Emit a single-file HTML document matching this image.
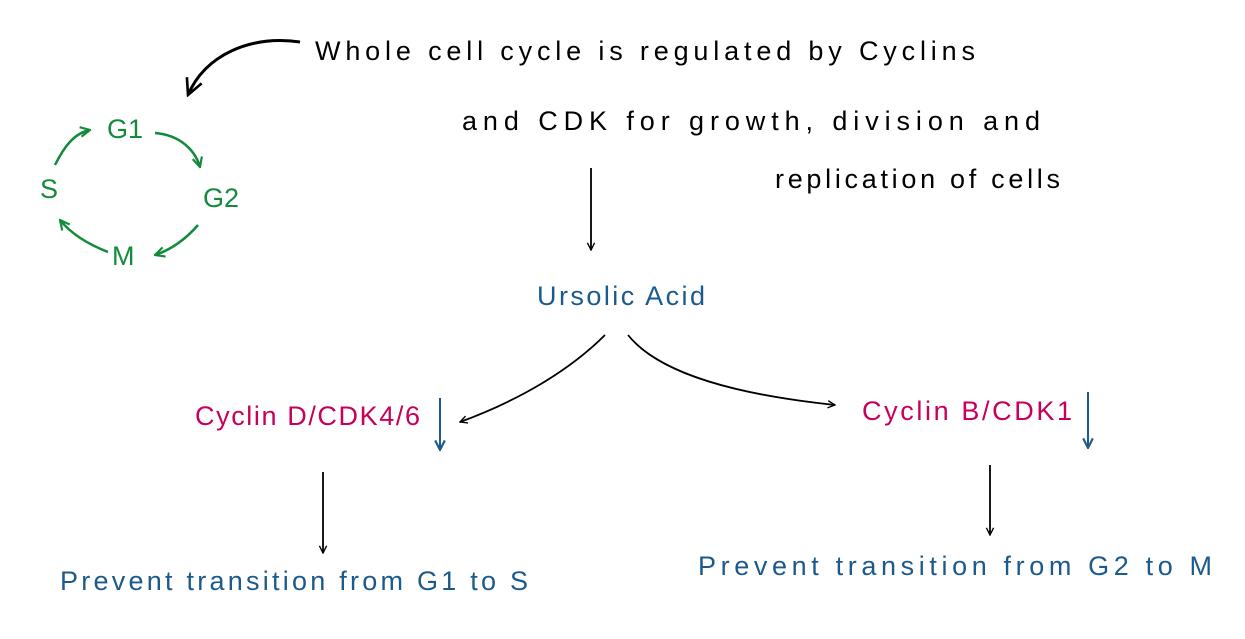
<!DOCTYPE html>
<html><head><meta charset="utf-8"><style>
html,body{margin:0;padding:0;background:#fff;width:1245px;height:639px;overflow:hidden}
text{font-family:"Liberation Sans",sans-serif}
</style></head><body>
<svg width="1245" height="639" viewBox="0 0 1245 639" xmlns="http://www.w3.org/2000/svg">
<defs>
<marker id="ab" viewBox="0 0 10 10" refX="9" refY="5" markerWidth="9" markerHeight="9" orient="auto" markerUnits="userSpaceOnUse"><path d="M1,1 L9,5 L1,9" fill="none" stroke="#000" stroke-width="1.5"/></marker>
<marker id="ag" viewBox="0 0 10 10" refX="9" refY="5" markerWidth="12" markerHeight="12" orient="auto" markerUnits="userSpaceOnUse"><path d="M1,1 L9,5 L1,9" fill="none" stroke="#138a3c" stroke-width="1.8"/></marker>
<marker id="abl" viewBox="0 0 10 10" refX="9" refY="5" markerWidth="12" markerHeight="12" orient="auto" markerUnits="userSpaceOnUse"><path d="M1,1 L9,5 L1,9" fill="none" stroke="#1d5a8c" stroke-width="1.8"/></marker>
<marker id="ak" viewBox="0 0 10 10" refX="9" refY="5" markerWidth="20" markerHeight="20" orient="auto" markerUnits="userSpaceOnUse"><path d="M1,1 L9,5 L1,9" fill="none" stroke="#000" stroke-width="1.3"/></marker>
</defs>
<g font-size="27" fill="#000">
<text x="315" y="60" textLength="660" lengthAdjust="spacing">Whole cell cycle is regulated by Cyclins</text>
<text x="462" y="130" textLength="578" lengthAdjust="spacing">and CDK for growth, division and</text>
<text x="775" y="188" textLength="285" lengthAdjust="spacing">replication of cells</text>
</g>
<path d="M300,42 C250,35 205,55 188,95" fill="none" stroke="#000" stroke-width="3" marker-end="url(#ak)"/>
<g fill="#138a3c" font-size="27">
<text x="107" y="138">G1</text><text x="203" y="207">G2</text><text x="112" y="265">M</text><text x="40" y="198">S</text>
</g>
<g fill="none" stroke="#138a3c" stroke-width="2.5">
<path d="M55,165 C65,145 75,133 90,130" marker-end="url(#ag)"/>
<path d="M155,133 C180,135 195,150 200,167" marker-end="url(#ag)"/>
<path d="M198,225 C185,240 170,250 155,255" marker-end="url(#ag)"/>
<path d="M108,252 C90,245 72,235 60,220" marker-end="url(#ag)"/>
</g>
<path d="M591,168 L591,250" stroke="#000" stroke-width="1.8" marker-end="url(#ab)"/>
<text x="537" y="305" font-size="27" fill="#1d5a8c" textLength="168" lengthAdjust="spacing">Ursolic Acid</text>
<path d="M605,335 C570,370 520,400 460,422" fill="none" stroke="#000" stroke-width="1.8" marker-end="url(#ab)"/>
<path d="M628,335 C660,375 740,395 835,405" fill="none" stroke="#000" stroke-width="1.8" marker-end="url(#ab)"/>
<g font-size="27" fill="#c8005a">
<text x="195" y="425" textLength="225" lengthAdjust="spacing">Cyclin D/CDK4/6</text>
<text x="862" y="420" textLength="210" lengthAdjust="spacing">Cyclin B/CDK1</text>
</g>
<path d="M440,398 L440,450" stroke="#1d5a8c" stroke-width="2" marker-end="url(#abl)"/>
<path d="M1088,392 L1088,448" stroke="#1d5a8c" stroke-width="2" marker-end="url(#abl)"/>
<path d="M323,472 L323,553" stroke="#000" stroke-width="1.8" marker-end="url(#ab)"/>
<path d="M990,465 L990,535" stroke="#000" stroke-width="1.8" marker-end="url(#ab)"/>
<g font-size="27" fill="#1d5a8c">
<text x="60" y="590" textLength="468" lengthAdjust="spacing">Prevent transition from G1 to S</text>
<text x="698" y="575" textLength="514" lengthAdjust="spacing">Prevent transition from G2 to M</text>
</g>
</svg>
</body></html>
